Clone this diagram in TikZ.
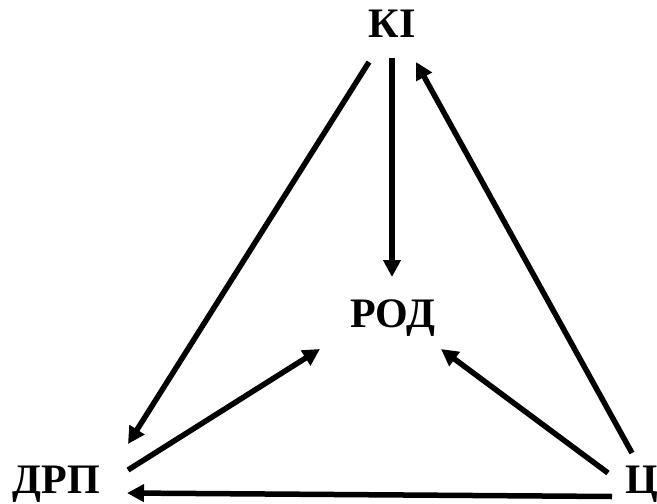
\documentclass[tikz,border=0pt]{standalone}
\usepackage{fontspec}
\setmainfont{Liberation Serif}
\usetikzlibrary{arrows.meta,calc}
\tikzset{
  lbl/.style={font=\fontsize{42}{50}\selectfont\bfseries, inner sep=0pt, anchor=base},
  arr/.style={line width=5.5pt, -{Triangle[length=17pt,width=17pt]}}
}
\begin{document}
\begin{tikzpicture}[x=1pt,y=-1pt]
\useasboundingbox (0,0) rectangle (657,504);
\node[lbl] (KI) at (392,37) {КІ};
\node[lbl] (ROD) at (392.5,327.5) {РОД};
\node[lbl] (DRP) at (56.5,493) {ДРП};
\node[lbl] (C) at (642,493) {Ц};
\draw[arr] ($(KI.base)+(-23,25)$) -- ($(DRP.base)+(71.5,-49)$);
\draw[arr] ($(KI.base)+(0,21)$) -- ($(ROD.base)+(-0.5,-50.5)$);
\draw[arr] ($(C.base)+(-10,-40)$) -- ($(KI.base)+(24,25)$);
\draw[arr] ($(DRP.base)+(71.5,-23)$) -- ($(ROD.base)+(-72.5,21.5)$);
\draw[arr] ($(C.base)+(-34,-20)$) -- ($(ROD.base)+(48.5,21.5)$);
\draw[arr] ($(C.base)+(-30,3.5)$) -- ($(DRP.base)+(70.5,0)$);
\end{tikzpicture}
\end{document}
